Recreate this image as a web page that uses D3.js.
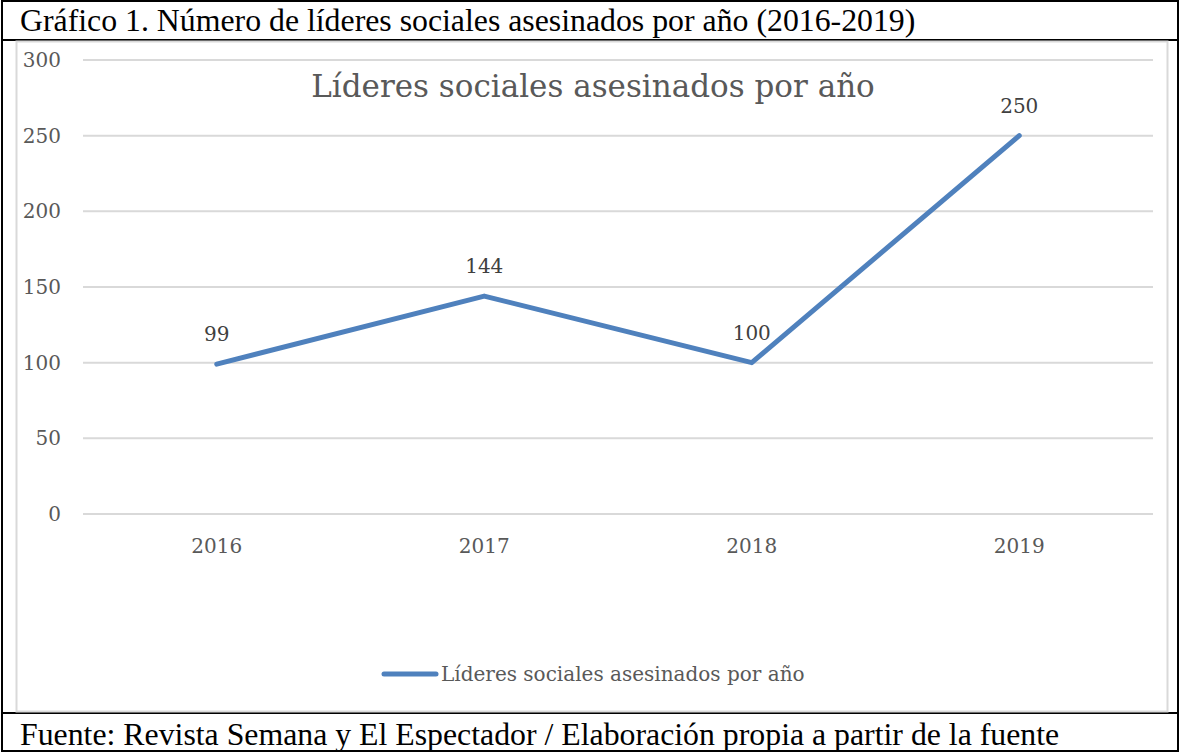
<!DOCTYPE html>
<html>
<head>
<meta charset="utf-8">
<script src="https://cdn.jsdelivr.net/npm/d3@7"></script>
<style>
  body { margin: 0; background: #fff; }
  svg { display: block; }
</style>
</head>
<body>
<div id="chart"></div>
<script>
var years = ["2016", "2017", "2018", "2019"]
var lideres = [99, 144, 100, 250]
var yTicks = [0, 50, 100, 150, 200, 250, 300]
var seriesName = "Líderes sociales asesinados por año"
var captionTop = "Gráfico 1. Número de líderes sociales asesinados por año (2016-2019)"
var captionBottom = "Fuente: Revista Semana y El Espectador / Elaboración propia a partir de la fuente"

var width = 1180,
    height = 753

var svg = d3.select("#chart")
  .append("svg")
    .attr("width", width)
    .attr("height", height)

// table frame around the chart
svg.append("rect")
  .attr("x", 2).attr("y", 1)
  .attr("width", 1176).attr("height", 750)
  .attr("fill", "none")
  .attr("stroke", "#000")
  .attr("stroke-width", 2)

svg.append("line")
  .attr("x1", 2).attr("x2", 1178)
  .attr("y1", 40).attr("y2", 40)
  .attr("stroke", "#000").attr("stroke-width", 2)

svg.append("line")
  .attr("x1", 2).attr("x2", 1178)
  .attr("y1", 713).attr("y2", 713)
  .attr("stroke", "#000").attr("stroke-width", 2)

var serif = "'Liberation Serif', 'Times New Roman', serif"

svg.append("text")
  .attr("x", 20).attr("y", 31)
  .style("font-family", serif)
  .style("font-size", "31.8px")
  .attr("fill", "#000")
  .text(captionTop)

svg.append("text")
  .attr("x", 20).attr("y", 745)
  .style("font-family", serif)
  .style("font-size", "31.8px")
  .attr("fill", "#000")
  .text(captionBottom)

// chart area border
svg.append("rect")
  .attr("x", 16.5).attr("y", 41.5)
  .attr("width", 1151).attr("height", 670)
  .attr("fill", "#fff")
  .attr("stroke", "#d9d9d9")
  .attr("stroke-width", 2)

var font = "'DejaVu Serif', serif"

var x = d3.scaleBand()
  .domain(years)
  .range([83, 1153])

var y = d3.scaleLinear()
  .domain([0, 300])
  .range([514, 60])

// gridlines
svg.append("g")
  .selectAll("line")
  .data(yTicks)
  .enter()
  .append("line")
    .attr("x1", 83).attr("x2", 1153)
    .attr("y1", function(d) { return y(d) })
    .attr("y2", function(d) { return y(d) })
    .attr("stroke", "#d9d9d9")
    .attr("stroke-width", 2)

var yAxis = svg.append("g")
  .attr("transform", "translate(61,0)")
  .call(d3.axisLeft(y).tickValues(yTicks).tickSize(0).tickPadding(0))
yAxis.select(".domain").remove()
yAxis.selectAll("text")
  .style("font-family", font)
  .style("font-size", "20px")
  .attr("fill", "#595959")

var xAxis = svg.append("g")
  .attr("transform", "translate(0,539)")
  .call(d3.axisBottom(x).tickSize(0).tickPadding(0))
xAxis.select(".domain").remove()
xAxis.selectAll("text")
  .style("font-family", font)
  .style("font-size", "20px")
  .attr("fill", "#595959")

// chart title
svg.append("text")
  .attr("x", 593).attr("y", 97)
  .attr("text-anchor", "middle")
  .style("font-family", font)
  .style("font-size", "31px")
  .attr("fill", "#595959")
  .text(seriesName)

var pts = years.map(function(d, i) { return {year: d, value: lideres[i]} })

var line = d3.line()
  .x(function(d) { return x(d.year) + x.bandwidth() / 2 })
  .y(function(d) { return y(d.value) })

svg.append("path")
  .datum(pts)
  .attr("d", line)
  .attr("fill", "none")
  .attr("stroke", "#4f81bd")
  .attr("stroke-width", 5)
  .attr("stroke-linecap", "round")
  .attr("stroke-linejoin", "round")

svg.append("g")
  .selectAll("text")
  .data(pts)
  .enter()
  .append("text")
    .attr("x", function(d) { return x(d.year) + x.bandwidth() / 2 })
    .attr("y", function(d) { return y(d.value) - 23 })
    .attr("text-anchor", "middle")
    .style("font-family", font)
    .style("font-size", "20px")
    .attr("fill", "#404040")
    .text(function(d) { return d.value })

// legend
svg.append("line")
  .attr("x1", 384).attr("x2", 436)
  .attr("y1", 674).attr("y2", 674)
  .attr("stroke", "#4f81bd")
  .attr("stroke-width", 5)
  .attr("stroke-linecap", "round")

svg.append("text")
  .attr("x", 441).attr("y", 681)
  .style("font-family", font)
  .style("font-size", "20px")
  .attr("fill", "#595959")
  .text(seriesName)
</script>
</body>
</html>
